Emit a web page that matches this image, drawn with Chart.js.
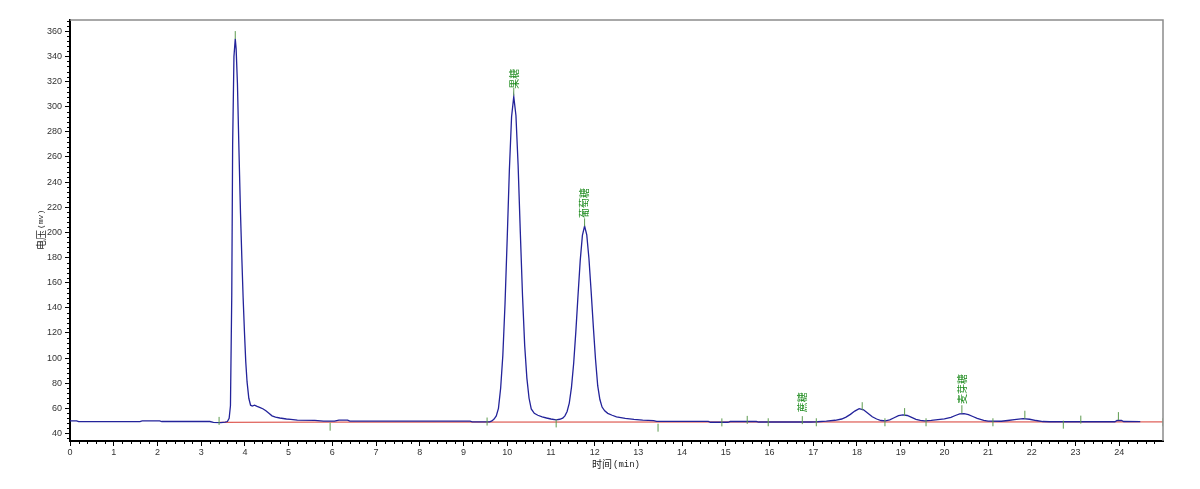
<!DOCTYPE html>
<html><head><meta charset="utf-8">
<script src="https://cdn.jsdelivr.net/npm/chart.js@4/dist/chart.umd.min.js"></script>
<style>html,body{margin:0;padding:0;background:#fff}#wrap{width:1200px;height:489px;position:relative}</style>
</head><body><div id="wrap"><canvas id="c"></canvas></div>
<script>
// Chromatogram trace (time in min, signal in mV)
const timeMin = [0.00,0.15,0.20,1.60,1.65,2.05,2.10,3.20,3.28,3.45,3.55,3.60,3.64,3.67,3.70,3.72,3.75,3.78,3.80,3.83,3.86,3.90,3.93,3.96,3.99,4.02,4.05,4.09,4.13,4.17,4.22,4.28,4.35,4.42,4.48,4.55,4.62,4.70,4.80,4.95,5.05,5.20,5.60,5.80,6.05,6.15,6.35,6.40,9.15,9.20,9.60,9.65,9.70,9.75,9.80,9.85,9.90,9.95,10.00,10.05,10.10,10.15,10.20,10.25,10.30,10.35,10.40,10.45,10.50,10.55,10.62,10.70,10.80,10.90,11.00,11.12,11.20,11.27,11.32,11.37,11.42,11.47,11.52,11.57,11.62,11.67,11.72,11.77,11.82,11.87,11.92,11.97,12.02,12.07,12.12,12.17,12.23,12.30,12.40,12.50,12.70,12.90,13.10,13.35,13.42,14.60,14.65,15.05,15.10,15.70,15.75,16.95,17.10,17.30,17.50,17.65,17.75,17.85,17.95,18.05,18.15,18.25,18.35,18.45,18.55,18.65,18.75,18.85,18.95,19.05,19.15,19.25,19.35,19.45,19.55,19.70,19.85,20.00,20.15,20.25,20.35,20.45,20.55,20.65,20.75,20.90,21.00,21.30,21.45,21.60,21.80,21.95,22.10,22.25,22.40,23.90,23.95,24.05,24.10,24.48];
const signalMv = [50.0,50.0,49.4,49.4,50.0,50.0,49.5,49.5,48.8,48.7,49.0,49.5,52,62,150,270,340,354,346,318,272,215,180,148,121,97,81,68,62.5,61.8,62.5,61.5,60.5,59.5,58,56,54,53,52.3,51.5,51.2,50.6,50.4,49.8,49.8,50.6,50.6,49.8,49.8,49.2,49.2,50.0,51.5,54,60,76,102,143,195,250,292,308,293,253,200,150,110,84,68,59.5,56,54.5,53.2,52.3,51.5,50.8,51.3,52.2,54,57.5,64.2,76.7,95.7,121,150,177.5,197.6,205,198,179,153,125,99,78,67,61,58,56,54.5,53.2,52,51.2,50.6,50.2,49.6,49.6,48.9,48.9,49.5,49.5,49.1,49.1,49.3,49.8,50.5,51.5,53,55.2,57.8,59.7,58.8,56,53.3,51.5,50.3,50.0,50.8,52.5,54.2,54.8,54.3,52.8,51.3,50.4,50.0,50.4,51.0,51.6,52.8,54.3,55.6,55.8,55.0,53.5,52.0,50.5,49.8,49.7,50.3,51.0,51.8,51.3,50.3,49.5,49.3,49.3,50.3,50.3,49.5,49.4];

// Integration baseline
const baselineTime = [3.43, 5.60, 25.00];
const baselineMv = [48.8, 49.0, 49.2];

// Integration event markers
const markerTime = [3.41,3.78,5.95,9.54,10.15,11.12,11.77,13.45,14.91,15.49,15.97,16.75,17.07,18.12,18.64,19.09,19.58,20.40,21.11,21.84,22.72,23.12,23.98,25.00];
const markerMv = [50,357,45.4,49.5,312,48,208,44.6,48.8,50.8,48.9,50.6,48.9,61.7,48.9,57,48.9,59.3,48.9,54.9,47,51,53.8,48.9];

// Identified peaks
const peakNames = ['果糖','葡萄糖','蔗糖','麦芽糖'];
const peakTime = [10.15, 11.77, 16.75, 20.40];
const peakMv = [308, 205, 50.6, 57];

// Axis ticks
const xTicks = [0,1,2,3,4,5,6,7,8,9,10,11,12,13,14,15,16,17,18,19,20,21,22,23,24];
const yTicks = [40,60,80,100,120,140,160,180,200,220,240,260,280,300,320,340,360];
const xRange = [0, 25];
const yRange = [34, 369];
const xMinorStep = 0.2;
const yMinorStep = 4;

const xyPairs = (xs, ys) => xs.map((v, i) => ({x: v, y: ys[i]}));

const decor = {
  id: 'decor',
  afterDraw(chart) {
    const {ctx, chartArea: a, scales: {x, y}} = chart;
    ctx.save();
    // top & right frame
    ctx.strokeStyle = '#8c8c8c'; ctx.lineWidth = 1.5;
    ctx.beginPath(); ctx.moveTo(a.left, a.top); ctx.lineTo(a.right, a.top); ctx.lineTo(a.right, a.bottom); ctx.stroke();
    // minor ticks
    ctx.strokeStyle = '#000'; ctx.lineWidth = 1;
    ctx.beginPath();
    const nx = Math.round((xRange[1] - xRange[0]) / xMinorStep);
    for (let i = 1; i < nx; i++) {
      if (i % 5 === 0) continue;
      const px = Math.round(x.getPixelForValue(xRange[0] + i * xMinorStep)) + 0.5;
      ctx.moveTo(px, a.bottom); ctx.lineTo(px, a.bottom + 3);
    }
    for (let v = 36; v <= yRange[1]; v += yMinorStep) {
      if (v % 20 === 0) continue;
      const py = Math.round(y.getPixelForValue(v)) + 0.5;
      ctx.moveTo(a.left - 3, py); ctx.lineTo(a.left, py);
    }
    ctx.stroke();
    // peak names (vertical)
    ctx.fillStyle = '#1f8c1f';
    ctx.font = '10px "Noto Sans CJK SC"';
    ctx.textAlign = 'left'; ctx.textBaseline = 'middle';
    peakNames.forEach((n, i) => {
      const px = x.getPixelForValue(peakTime[i]);
      const py = y.getPixelForValue(peakMv[i]);
      ctx.save(); ctx.translate(px, py - 8); ctx.rotate(-Math.PI / 2);
      ctx.fillText(n, 0, 0); ctx.restore();
    });
    // axis titles
    ctx.fillStyle = '#222';
    ctx.save(); ctx.translate(41, 250); ctx.rotate(-Math.PI / 2);
    ctx.font = '10px "Noto Sans CJK SC"';
    ctx.fillText('电压', 0, 0);
    let w = ctx.measureText('电压').width;
    ctx.font = '8px "Liberation Mono"';
    ctx.fillText('(mv)', w + 1, 0);
    ctx.restore();
    ctx.font = '10px "Noto Sans CJK SC"';
    ctx.fillText('时间', 592, 464);
    w = ctx.measureText('时间').width;
    ctx.font = '9px "Liberation Mono"';
    ctx.fillText('(min)', 592 + w + 1, 465);
    ctx.restore();
  }
};

new Chart(document.getElementById('c'), {
  type: 'line',
  data: {
    datasets: [
      {data: xyPairs(markerTime, markerMv), showLine: false, pointStyle: 'line', rotation: 90, pointRadius: 4,
       pointBorderColor: '#5d9b4f', pointBorderWidth: 1, borderColor: '#5d9b4f', order: 0},
      {data: xyPairs(timeMin, signalMv), borderColor: '#23239a', borderWidth: 1.3, pointRadius: 0, tension: 0, order: 1},
      {data: xyPairs(baselineTime, baselineMv), borderColor: '#e0635c', borderWidth: 1.2, pointRadius: 0, tension: 0, order: 2}
    ]
  },
  options: {
    responsive: true, maintainAspectRatio: false, animation: false, devicePixelRatio: 1,
    layout: {padding: {top: 20, right: 37, left: 0, bottom: 0}},
    plugins: {legend: {display: false}, tooltip: {enabled: false}},
    scales: {
      x: {
        type: 'linear', min: xRange[0], max: xRange[1],
        afterBuildTicks: s => { s.ticks = xTicks.map(v => ({value: v})); },
        afterFit: s => { s.height = 48; },
        ticks: {font: {size: 9, family: 'Liberation Sans'}, color: '#333', padding: 1, maxRotation: 0, autoSkip: false},
        grid: {drawOnChartArea: false, tickLength: 5, color: '#000'},
        border: {color: '#000', width: 2}
      },
      y: {
        type: 'linear', min: yRange[0], max: yRange[1],
        afterBuildTicks: s => { s.ticks = yTicks.map(v => ({value: v})); },
        afterFit: s => { s.width = 70; },
        ticks: {font: {size: 9, family: 'Liberation Sans'}, color: '#333', padding: 3, autoSkip: false},
        grid: {drawOnChartArea: false, tickLength: 5, color: '#000'},
        border: {color: '#000', width: 2}
      }
    }
  },
  plugins: [decor]
});
</script>
</body></html>
